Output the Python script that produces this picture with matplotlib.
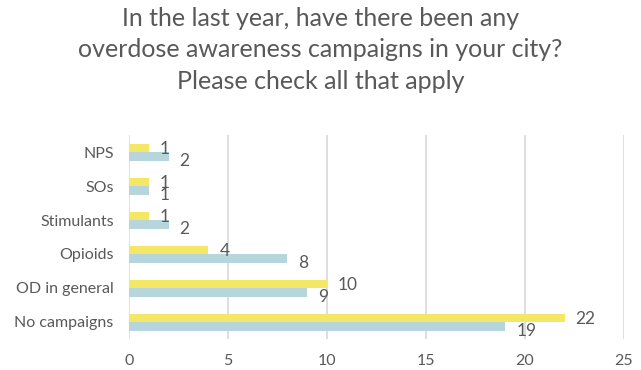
import matplotlib
matplotlib.use("Agg")
import matplotlib.pyplot as plt
import numpy as np

categories = ["No campaigns", "OD in general", "Opioids", "Stimulants", "SOs", "NPS"]
yellow_vals = [22, 10, 4, 1, 1, 1]
blue_vals = [19, 9, 8, 2, 1, 2]
xticks = [0, 5, 10, 15, 20, 25]
title = "In the last year, have there been any\noverdose awareness campaigns in your city?\nPlease check all that apply"

plt.rcParams['font.family'] = ['Lato', 'DejaVu Sans']
grey = "#595959"
yellow = "#F5E766"
blue = "#B7D5DD"

fig = plt.figure(figsize=(6.41, 3.70), dpi=100)
ax = fig.add_axes([129/641, 1 - 339/370, (624-129)/641, (339-135)/370])

y = np.arange(len(categories))
h = 0.25
ax.barh(y + h/2, yellow_vals, height=h, color=yellow, zorder=3)
ax.barh(y - h/2, blue_vals, height=h, color=blue, zorder=3)

for yi, v in zip(y, yellow_vals):
    ax.annotate(str(v), (v, yi + h/2 - 0.05), xytext=(8, 0), textcoords="offset points",
                va="center", ha="left", fontsize=12.5, color=grey, zorder=4)
for yi, v in zip(y, blue_vals):
    ax.annotate(str(v), (v, yi - h/2 - 0.14), xytext=(8, 0), textcoords="offset points",
                va="center", ha="left", fontsize=12.5, color=grey, zorder=4)

ax.set_xlim(0, 25)
ax.set_ylim(-0.5, len(categories) - 0.5)
ax.set_xticks(xticks)
ax.set_xticklabels([str(t) for t in xticks])
ax.set_yticks(y)
ax.set_yticklabels(categories)
ax.tick_params(axis='both', length=0, labelsize=11.5, colors=grey)
ax.tick_params(axis='x', pad=11)
ax.tick_params(axis='y', pad=11)
for s in ax.spines.values():
    s.set_visible(False)
ax.grid(axis='x', color="#d9d9d9", linewidth=1.2, zorder=0)
ax.set_axisbelow(True)

fig.text(0.5, 0.982, title, ha="center", va="top", fontsize=18, color=grey, linespacing=1.45)

fig.savefig("out.png", dpi=100)
